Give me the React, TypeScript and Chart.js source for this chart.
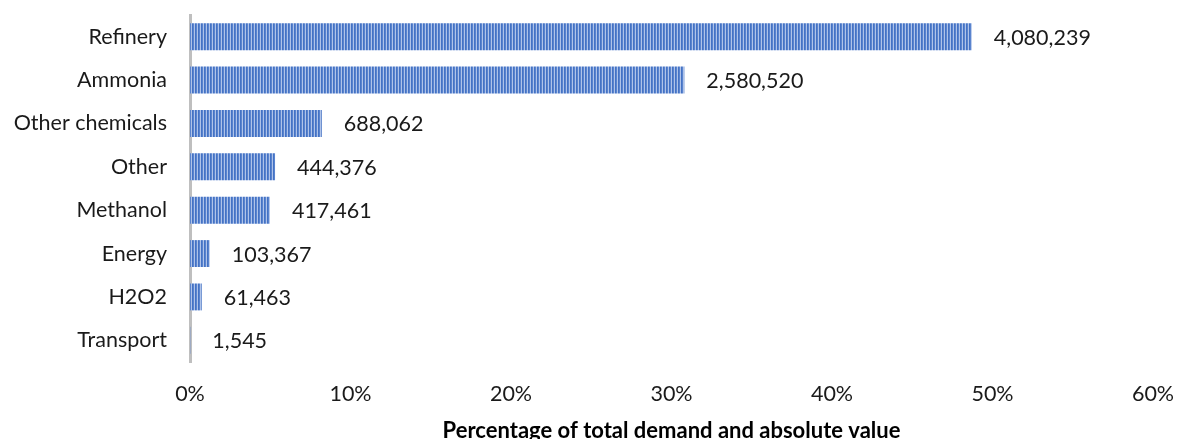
import React, { useEffect, useRef } from "react";
import { Chart, registerables } from "chart.js";

Chart.register(...registerables);

const categories = ["Refinery", "Ammonia", "Other chemicals", "Other", "Methanol", "Energy", "H2O2", "Transport"];
const absoluteValues = [4080239, 2580520, 688062, 444376, 417461, 103367, 61463, 1545];
const sharePercent = [48.71, 30.8, 8.21, 5.3, 4.98, 1.23, 0.73, 0.02];
const xTicks = [0, 10, 20, 30, 40, 50, 60];

const FONT = "Lato, 'Open Sans', sans-serif";
const FS = 21.5;

function makePattern(): CanvasPattern | string {
  const c = document.createElement("canvas");
  c.width = 3;
  c.height = 8;
  const ctx = c.getContext("2d");
  if (!ctx) return "#4472C4";
  const cols = ["#4472C4", "#5A84CE", "#AFC3E9"];
  cols.forEach((col, i) => {
    ctx.fillStyle = col;
    ctx.fillRect(i, 0, 1, 8);
  });
  const p = ctx.createPattern(c, "repeat");
  return p || "#4472C4";
}

const valueLabels = {
  id: "valueLabels",
  afterDatasetsDraw(chart: any) {
    const ctx = chart.ctx;
    const meta = chart.getDatasetMeta(0);
    ctx.save();
    ctx.font = `${FS}px ${FONT}`;
    ctx.fillStyle = "#1a1a1a";
    ctx.textAlign = "left";
    ctx.textBaseline = "middle";
    meta.data.forEach((bar: any, i: number) => {
      ctx.fillText(absoluteValues[i].toLocaleString("en-US"), bar.x + 22, bar.y + 1);
    });
    ctx.restore();
  },
};

export default function App() {
  const ref = useRef<HTMLCanvasElement | null>(null);
  useEffect(() => {
    if (!ref.current) return;
    const chart = new Chart(ref.current, {
      type: "bar",
      data: {
        labels: categories,
        datasets: [
          {
            data: sharePercent,
            backgroundColor: makePattern() as any,
            borderWidth: 0,
            barPercentage: 0.62,
            categoryPercentage: 1,
          },
        ],
      },
      options: {
        indexAxis: "y",
        animation: false,
        responsive: true,
        maintainAspectRatio: false,
        layout: { padding: { top: 15, right: 24, left: 0, bottom: 0 } },
        plugins: { legend: { display: false }, tooltip: { enabled: false } },
        scales: {
          x: {
            min: 0,
            max: 60,
            afterBuildTicks: (scale: any) => {
              scale.ticks = xTicks.map((v) => ({ value: v }));
            },
            afterFit: (scale: any) => {
              scale.height = 77;
              scale.paddingLeft = 0;
              scale.paddingRight = 0;
            },
            grid: { display: false, drawTicks: false },
            border: { display: false },
            ticks: {
              padding: 19,
              color: "#1a1a1a",
              font: { family: FONT, size: FS },
              callback: (v: any) => `${v}%`,
              maxRotation: 0,
            },
            title: {
              display: true,
              text: "Percentage of total demand and absolute value",
              color: "#000",
              font: { family: FONT, size: 22, weight: "bold", lineHeight: 0.75 },
              padding: 0,
            },
          },
          y: {
            afterFit: (scale: any) => {
              scale.width = 190;
              scale.paddingTop = 0;
              scale.paddingBottom = 0;
            },
            grid: { display: false, drawTicks: false },
            border: { display: true, color: "#BFBFBF", width: 3 },
            ticks: {
              padding: 23,
              color: "#1a1a1a",
              font: { family: FONT, size: FS },
            },
          },
        },
      },
      plugins: [valueLabels],
    });
    return () => chart.destroy();
  }, []);
  return (
    <div style={{ position: "absolute", left: 0, top: 0, width: 1177, height: 439, background: "#fff" }}>
      <canvas ref={ref} />
    </div>
  );
}
